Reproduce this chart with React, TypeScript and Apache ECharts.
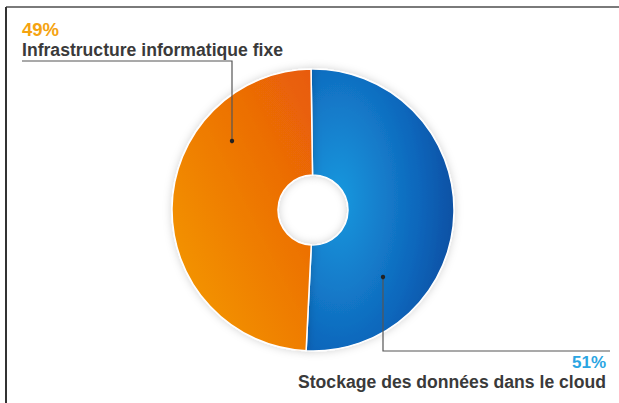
import React, { useEffect, useRef } from "react";
import * as echarts from "echarts";

const categories = ["Stockage des données dans le cloud", "Infrastructure informatique fixe"];
const values = [51, 49];

export default function App() {
  const ref = useRef<HTMLDivElement>(null);
  useEffect(() => {
    if (!ref.current) return;
    const chart = echarts.init(ref.current, undefined, { renderer: "svg" });
    const cx = 313;
    const cy = 210;
    const blueGrad = new echarts.graphic.RadialGradient(0.22, 0.46, 1.0, [
      { offset: 0, color: "#1a98de" },
      { offset: 0.55, color: "#0e66bb" },
      { offset: 1, color: "#093c8e" },
    ]);
    const orangeGrad = new echarts.graphic.LinearGradient(1, 0, 0, 1, [
      { offset: 0, color: "#e85a08" },
      { offset: 1, color: "#f59e00" },
    ]);
    const labelPos = [
      { x: 606, y: 353.5, align: "right", pf: 17, plh: 18, nf: 17.6, nlh: 20 },
      { x: 22, y: 19.5, align: "left", pf: 18.5, plh: 20, nf: 17.6, nlh: 20 },
    ];
    const font = "'Liberation Sans', Arial, sans-serif";
    chart.setOption({
      animation: false,
      backgroundColor: "#ffffff",
      graphic: [
        { type: "line", shape: { x1: 6, y1: 7, x2: 619, y2: 7 }, style: { stroke: "#7a7a7a", lineWidth: 2 } },
        { type: "line", shape: { x1: 6, y1: 7, x2: 6, y2: 403 }, style: { stroke: "#333333", lineWidth: 2 } },
        { type: "polyline", shape: { points: [[22, 61], [232, 61], [232, 141]] }, style: { stroke: "#555", lineWidth: 1.2, fill: null }, z: 10 },
        { type: "circle", shape: { cx: 232, cy: 141, r: 2.2 }, style: { fill: "#222" }, z: 10 },
        { type: "polyline", shape: { points: [[383, 277], [383, 351], [610, 351]] }, style: { stroke: "#555", lineWidth: 1.2, fill: null }, z: 10 },
        { type: "circle", shape: { cx: 383, cy: 277, r: 2.2 }, style: { fill: "#222" }, z: 10 },
      ],
      series: [
        {
          type: "pie",
          center: [cx, cy],
          radius: [35, 141],
          startAngle: 90.8,
          clockwise: true,
          data: categories.map((name, i) => ({
            name,
            value: values[i],
            itemStyle: { color: i === 0 ? blueGrad : orangeGrad },
            label: {
              rich: {
                p: {
                  fontFamily: font,
                  fontWeight: "bold",
                  fontSize: labelPos[i].pf,
                  lineHeight: labelPos[i].plh,
                  color: i === 0 ? "#2aa5e2" : "#f5a310",
                  align: labelPos[i].align,
                },
                n: {
                  fontFamily: font,
                  fontWeight: "bold",
                  fontSize: labelPos[i].nf,
                  lineHeight: labelPos[i].nlh,
                  color: "#3a3a3a",
                  align: labelPos[i].align,
                },
              },
            },
          })),
          itemStyle: {
            borderColor: "#ffffff",
            borderWidth: 1.5,
            shadowColor: "rgba(0,0,0,0.18)",
            shadowBlur: 8,
          },
          label: {
            show: true,
            overflow: "none",
            width: 400,
            bleedMargin: 0,
            formatter: (p: any) => `{p|${p.value}%}\n{n|${p.name}}`,
          },
          labelLine: { show: false },
          labelLayout: (params: any) => {
            const lp = labelPos[params.dataIndex];
            return { x: lp.x, y: lp.y, align: lp.align, verticalAlign: "top" };
          },
          emphasis: { disabled: true },
        },
      ],
    });
    return () => chart.dispose();
  }, []);
  return (
    <div
      ref={ref}
      style={{ position: "fixed", left: 0, top: 0, width: 619, height: 403 }}
    />
  );
}
